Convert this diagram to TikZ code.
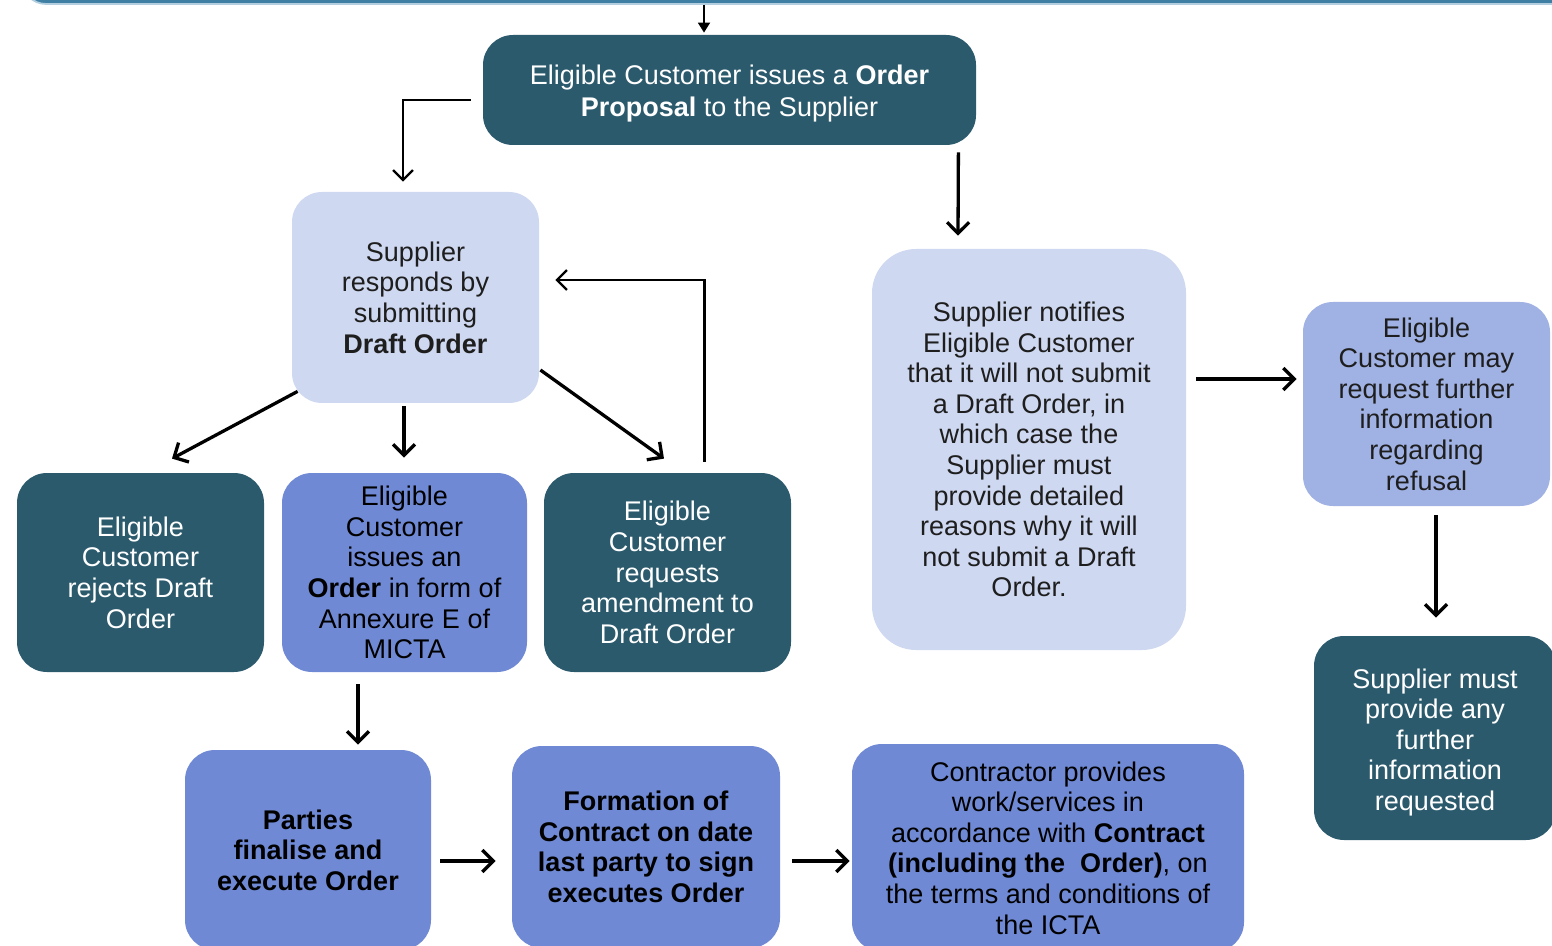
\documentclass[tikz,border=0pt]{standalone}
\usepackage{fontspec}
\setmainfont{Liberation Sans}
\usetikzlibrary{arrows.meta}

\definecolor{boxdark}{HTML}{2C5A6D}
\definecolor{boxlight}{HTML}{CED8F0}
\definecolor{boxmid}{HTML}{6F89D4}
\definecolor{boxpale}{HTML}{A0B1E3}
\definecolor{headblue}{HTML}{3F7FA3}
\definecolor{headedge}{HTML}{B3CFDF}
\definecolor{inkdark}{HTML}{1E1E1E}

\tikzset{
  box/.style={rounded corners=15pt, align=center, inner sep=0pt,
              font=\fontsize{13.5}{15.3}\selectfont},
  darkbox/.style={box, fill=boxdark, text=white},
  lightbox/.style={box, fill=boxlight, text=inkdark},
  midbox/.style={box, fill=boxmid, text=black},
  palebox/.style={box, fill=boxpale, text=inkdark},
  arr/.style={line width=1.65pt, -{Straight Barb[length=5.5pt,width=11pt]}},
  thinarr/.style={line width=1.1pt, -{Straight Barb[length=5pt,width=10pt]}},
  tinyarr/.style={line width=0.9pt, -{Triangle[length=5pt,width=6pt]}},
}

\begin{document}
\begin{tikzpicture}[x=0.5pt,y=-0.5pt]
\useasboundingbox (0,0) rectangle (1552,946);

% header box above, only its lower edge shows
\node[rounded corners=12pt, fill=headblue, draw=headedge, line width=0.9pt,
      minimum width=809pt, minimum height=42pt, inner sep=0pt] (head) at (831,-38) {};

% first step
\node[darkbox, minimum width=246.5pt, minimum height=55pt,
      font=\fontsize{13.5}{16}\selectfont] (top) at (729.5,90)
  {\rule{0pt}{13pt}Eligible Customer issues a \textbf{Order}\\\textbf{Proposal} to the Supplier};

% supplier's two possible responses
\node[lightbox, minimum width=123.5pt, minimum height=105.5pt] (sup) at (415.5,297.5)
  {Supplier\\responds by\\submitting\\\textbf{Draft Order}};
\node[lightbox, rounded corners=22pt, minimum width=157pt, minimum height=200.5pt] (noti) at (1029,449.5)
  {Supplier notifies\\Eligible Customer\\that it will not submit\\a Draft Order, in\\which case the\\Supplier must\\provide detailed\\reasons why it will\\not submit a Draft\\Order.};

% refusal branch
\node[palebox, minimum width=123.5pt, minimum height=102pt] (req) at (1426.5,404)
  {Eligible\\Customer may\\request further\\information\\regarding\\refusal};
\node[darkbox, minimum width=121pt, minimum height=102pt] (prov) at (1435,738)
  {\rule{0pt}{14pt}Supplier must\\provide any\\further\\information\\requested};

% customer's options on the draft order
\node[darkbox, minimum width=123.5pt, minimum height=99.5pt] (rej) at (140.5,572.5)
  {Eligible\\Customer\\rejects Draft\\Order};
\node[midbox, minimum width=122.5pt, minimum height=99.5pt] (iss) at (404.5,572.5)
  {Eligible\\Customer\\issues an\\\textbf{Order} in form of\\Annexure E of\\MICTA};
\node[darkbox, minimum width=123.5pt, minimum height=99.5pt] (amd) at (667.5,572.5)
  {Eligible\\Customer\\requests\\amendment to\\Draft Order};

% contract formation
\node[midbox, minimum width=123pt, minimum height=100pt] (par) at (308,850)
  {\textbf{Parties}\\\textbf{finalise and}\\\textbf{execute Order}};
\node[midbox, minimum width=134pt, minimum height=101pt] (form) at (646,847)
  {\textbf{Formation of}\\\textbf{Contract on date}\\\textbf{last party to sign}\\\textbf{executes Order}};
\node[midbox, minimum width=196pt, minimum height=104pt] (con) at (1048,848)
  {Contractor provides\\work/services in\\accordance with \textbf{Contract}\\\textbf{(including the\ \ Order)}, on\\the terms and conditions of\\the ICTA};

% connectors
\draw[tinyarr] ([xshift=-12.75pt]top.north |- head.south) -- ([shift={(-25.5,-2)}]top.north);
\draw[thinarr] ([shift={(-12,10)}]top.west) -| ([shift={(-12.5,-10)}]sup.north);
\draw[arr] ([shift={(-18,7)}]top.south east) -- ([shift={(-71,-13)}]noti.north);

\draw[arr] ([shift={(6,-12)}]sup.south west) -- ([shift={(31.5,-14)}]rej.north);
\draw[arr] ([shift={(-11.5,3)}]sup.south) -- ([shift={(-0.5,-15)}]iss.north);
\draw[arr] ([shift={(1,72.5)}]sup.east) -- ([shift={(-3.5,-14)}]amd.north);
\draw[thinarr] ([shift={(37,-11)}]amd.north) |- ([shift={(16,-17.5)}]sup.east);

\draw[arr] ([shift={(10,-70.5)}]noti.east) -- ([shift={(-6,-25)}]req.west);
\draw[arr] ([shift={(9.5,9)}]req.south) -- ([shift={(1,-18)}]prov.north);

\draw[arr] ([shift={(-46.5,12)}]iss.south) -- ([shift={(50,-5)}]par.north);
\draw[arr] ([shift={(9,11)}]par.east) -- ([shift={(-16,14)}]form.west);
\draw[arr] ([shift={(12,14)}]form.east) -- ([shift={(-2,13)}]con.west);
\end{tikzpicture}
\end{document}
